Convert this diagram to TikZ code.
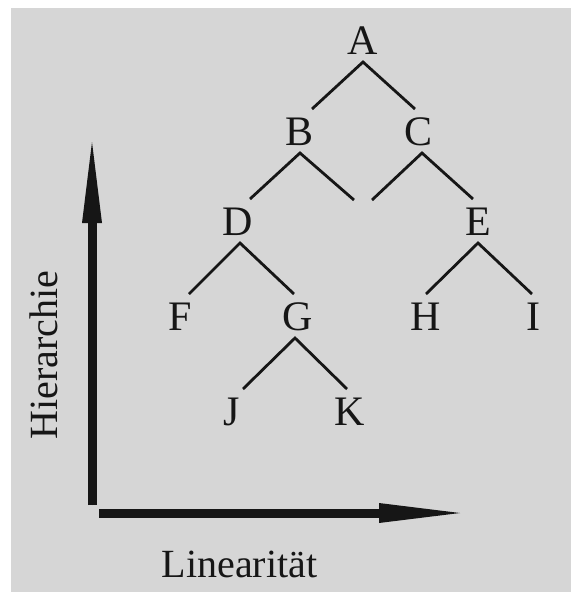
\documentclass[tikz,border=0pt]{standalone}
\usepackage{fontspec}
\setmainfont{Liberation Serif}
\usetikzlibrary{arrows.meta}
\definecolor{paper}{RGB}{214,214,214}
\definecolor{ink}{RGB}{22,22,22}
\tikzset{
  letter/.style={font=\fontsize{42}{48}\selectfont, text=ink, inner sep=0pt,
    outer sep=8pt, text height=28pt, text depth=0pt, anchor=center},
  branch/.style={draw=ink, line width=2.8pt},
  axis/.style={draw=ink, fill=ink, line width=9pt,
    -{Triangle[length=81pt, width=20pt, line width=0pt]}},
  axislabel/.style={font=\fontsize{40}{46}\selectfont, text=ink, inner sep=0pt, anchor=base}
}
\begin{document}
\begin{tikzpicture}[x=1pt, y=-1pt]
\useasboundingbox (0,0) rectangle (574,592);
\fill[white] (0,0) rectangle (574,592);
\fill[paper] (11,8) rectangle (571,592);

% tree letters
\node[letter] (A) at (363,40) {A};
\node[letter] (B) at (300,131) {B};
\node[letter] (C) at (419,131) {C};
\node[letter] (D) at (238,221) {D};
\node[letter] (E) at (478,221) {E};
\node[letter] (F) at (180,316) {F};
\node[letter] (G) at (298,316) {G};
\node[letter] (H) at (426,316) {H};
\node[letter] (I) at (533,316) {I};
\node[letter] (J) at (232,411) {J};
\node[letter] (K) at (350,411) {K};

% open branch ends without a label
\coordinate (b2) at (354,200);
\coordinate (c1) at (372,200);

% branches
\draw[branch] ([xshift=12pt]B.north) -- (A.south) -- ([xshift=-4pt]C.north);
\draw[branch] ([xshift=12pt]D.north) -- (B.south) -- (b2);
\draw[branch] (c1) -- ([xshift=3pt]C.south) -- ([xshift=-5pt]E.north);
\draw[branch] ([xshift=9pt]F.north) -- ([xshift=2pt]D.south) -- ([xshift=-4pt]G.north);
\draw[branch] (H.north) -- (E.south) -- ([xshift=-1pt]I.north);
\draw[branch] ([xshift=11pt]J.north) -- ([xshift=-3pt]G.south) -- ([xshift=-3pt]K.north);

% axes
\coordinate (vbottom) at (92,505);
\coordinate (vtop) at (92,142);
\coordinate (hleft) at (99,513);
\coordinate (hright) at (460,513);
\draw[axis] (vbottom) -- (vtop);
\draw[axis] (hleft) -- (hright);

\node[axislabel, rotate=90] (hier) at (57,355) {Hierarchie};
\node[axislabel] (lin) at (239.5,577) {Linearität};
\end{tikzpicture}
\end{document}
